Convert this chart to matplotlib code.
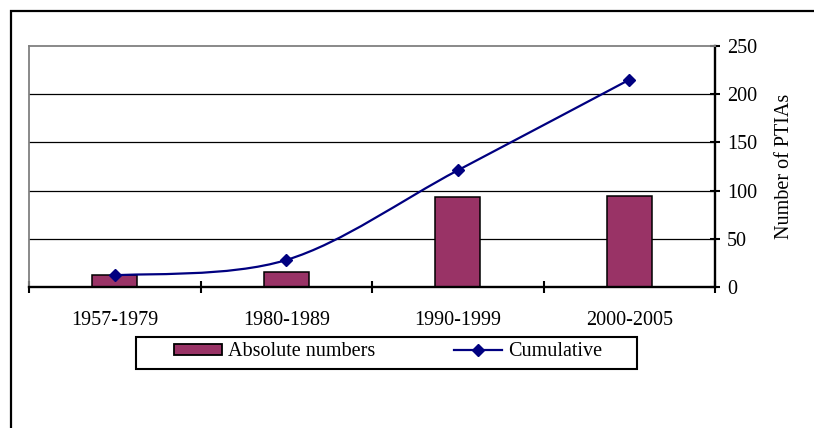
import matplotlib
matplotlib.use("Agg")
import matplotlib.pyplot as plt
from matplotlib.path import Path
from matplotlib.patches import PathPatch, Rectangle
from matplotlib.lines import Line2D
import numpy as np

# ---- data ----
categories = ["1957-1979", "1980-1989", "1990-1999", "2000-2005"]
absolute_numbers = [12, 16, 93, 94]
cumulative = [12, 28, 121, 215]
y_ticks = [0, 50, 100, 150, 200, 250]

# ---- style ----
BAR_COLOR = "#993366"
LINE_COLOR = "#000080"
FONT = ["Liberation Serif", "DejaVu Serif"]
FS = 14.5

plt.rcParams["font.family"] = FONT

W, H = 814, 428
fig = plt.figure(figsize=(W / 100, H / 100), dpi=100)

def fx(px):
    return px / W

def fy(py):
    return 1 - py / H

left, right, top, bottom = 29, 715, 46, 287
ax = fig.add_axes([fx(left), fy(bottom), fx(right - left), (bottom - top) / H])

x = np.arange(len(categories))
ax.bar(x, absolute_numbers, width=0.265, color=BAR_COLOR, edgecolor="black",
       linewidth=1.1, zorder=3)

# smoothed line (Excel-style Catmull-Rom Bezier through the points)
pts = np.column_stack([x, cumulative]).astype(float)
verts = [pts[0]]
codes = [Path.MOVETO]
n = len(pts)
for i in range(n - 1):
    p_prev = pts[i - 1] if i > 0 else pts[i]
    p_next2 = pts[i + 2] if i + 2 < n else pts[i + 1]
    c1 = pts[i] + (pts[i + 1] - p_prev) / 6
    c2 = pts[i + 1] - (p_next2 - pts[i]) / 6
    verts += [c1, c2, pts[i + 1]]
    codes += [Path.CURVE4] * 3
ax.add_patch(PathPatch(Path(verts, codes), facecolor="none", edgecolor=LINE_COLOR,
                       linewidth=1.6, zorder=4))
ax.plot(x, cumulative, linestyle="none", marker="D", markersize=6.3,
        color=LINE_COLOR, zorder=5)

ax.set_xlim(-0.5, len(categories) - 0.5)
ax.set_ylim(0, 250)

# y axis on right
ax.yaxis.tick_right()
ax.yaxis.set_label_position("right")
ax.set_yticks(y_ticks)
ax.set_yticklabels([str(v) for v in y_ticks], fontsize=FS)
ax.tick_params(axis="y", direction="inout", length=7, width=1.5, pad=5)
ax.set_ylabel("Number of PTIAs", fontsize=FS, labelpad=13)

# x ticks at category boundaries, labels at centers
ax.set_xticks(np.arange(len(categories) + 1) - 0.5)
ax.set_xticklabels([])
ax.set_xticks(x, minor=True)
ax.set_xticklabels(categories, minor=True, fontsize=FS)
ax.tick_params(axis="x", which="major", direction="inout", length=9, width=1.5)
ax.tick_params(axis="x", which="minor", length=0, pad=17)

# grid
for v in y_ticks[1:-1]:
    ax.axhline(v, color="black", linewidth=0.9, zorder=1)

for s in ["left", "top"]:
    ax.spines[s].set_color("#808080")
    ax.spines[s].set_linewidth(1.3)
for s in ["right", "bottom"]:
    ax.spines[s].set_color("black")
    ax.spines[s].set_linewidth(1.7)
ax.spines["bottom"].set_zorder(6)

# legend
handles = [
    Rectangle((0, 0), 1, 1, facecolor=BAR_COLOR, edgecolor="black", linewidth=1.3),
    Line2D([], [], color=LINE_COLOR, linewidth=1.6, marker="D", markersize=6.3),
]
leg = fig.legend(handles, ["Absolute numbers", "Cumulative"], ncol=2, frameon=False,
                 loc="center", bbox_to_anchor=(fx(388), fy(352)),
                 fontsize=FS, handlelength=2.4, handleheight=0.45,
                 handletextpad=0.3, columnspacing=3.9)
fig.add_artist(Rectangle((fx(136), fy(369)), fx(637 - 136), (369 - 337) / H,
                         transform=fig.transFigure, facecolor="none",
                         edgecolor="black", linewidth=1.5))

# outer chart border (extends beyond right/bottom of image)
fig.add_artist(Rectangle((fx(11), -1.0), 3.0, fy(11) + 1.0,
                         transform=fig.transFigure, facecolor="none",
                         edgecolor="black", linewidth=1.6, clip_on=False))

fig.savefig("out.png", dpi=100)
